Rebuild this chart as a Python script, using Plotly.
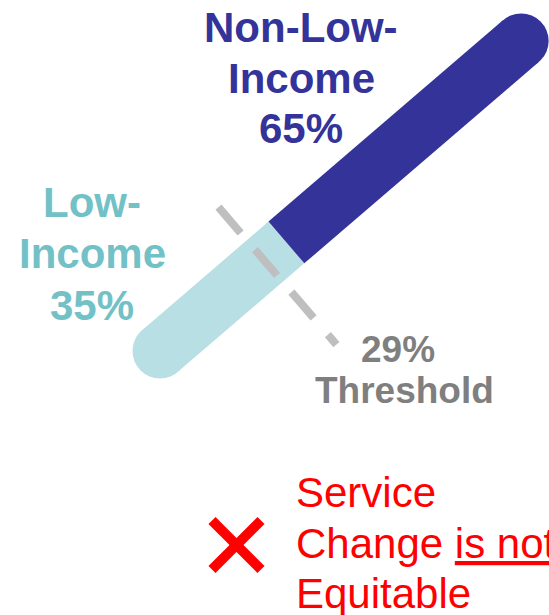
import math
import plotly.graph_objects as go

# --- data -------------------------------------------------------------
categories = ["Low-Income", "Non-Low-Income"]
shares = [35, 65]                      # percent of riders
threshold = 29                         # equity threshold, percent
verdict_lines = ["Service", "Change <u>is not</u>", "Equitable"]

# --- styling / layout --------------------------------------------------
W, H = 549, 615
FONT = "Liberation Sans, Arial, sans-serif"
seg_colors = ["#B8E0E4", "#333399"]
label_colors = ["#72C1C7", "#333399"]
GRAY_TEXT = "#7F7F7F"
DASH_GRAY = "#BFBFBF"
RED = "#FF0000"

bar_start = (160.0, 351.0)             # centre of the low-end cap (px)
bar_angle = math.radians(40.65)        # tilt above horizontal
bar_len = 476.0                        # px spanned by 0..100 %
bar_width = 55                         # px

ux, uy = math.cos(bar_angle), -math.sin(bar_angle)   # along the bar (screen y down)
nx, ny = math.sin(bar_angle), math.cos(bar_angle)    # across the bar


def along(pct):
    return (bar_start[0] + pct / 100 * bar_len * ux,
            bar_start[1] + pct / 100 * bar_len * uy)


fig = go.Figure()

# stacked bar segments drawn as thick tilted strokes with round end caps
edges = [0]
for s in shares:
    edges.append(edges[-1] + s)
for i, (a, b) in enumerate(zip(edges[:-1], edges[1:])):
    p0, p1 = along(a), along(b)
    fig.add_trace(go.Scatter(
        x=[p0[0], p1[0]], y=[p0[1], p1[1]], mode="lines",
        line=dict(color=seg_colors[i], width=bar_width),
        hoverinfo="skip", showlegend=False, cliponaxis=False))
    cap = along(edges[0]) if i == 0 else (along(edges[-1]) if i == len(shares) - 1 else None)
    if cap is not None:
        fig.add_trace(go.Scatter(
            x=[cap[0]], y=[cap[1]], mode="markers",
            marker=dict(color=seg_colors[i], size=bar_width, line=dict(width=0)),
            hoverinfo="skip", showlegend=False, cliponaxis=False))

# dashed threshold marker across the bar
tc = along(threshold)
t_lo, t_hi = -71, 110
fig.add_trace(go.Scatter(
    x=[tc[0] + t_lo * nx, tc[0] + t_hi * nx],
    y=[tc[1] + t_lo * ny, tc[1] + t_hi * ny],
    mode="lines", line=dict(color=DASH_GRAY, width=8, dash="34px,22px"),
    hoverinfo="skip", showlegend=False, cliponaxis=False))

annotations = []


def add_line(text, x, baseline, size, color, bold=True, anchor="center"):
    # centre the line box on its glyph extent so the anchor stays on the canvas
    annotations.append(dict(
        x=x, y=baseline - 0.3465 * size, xref="x", yref="y",
        xanchor=anchor, yanchor="middle", showarrow=False, borderpad=0,
        text=f"<b>{text}</b>" if bold else text,
        font=dict(family=FONT, size=size, color=color)))


def split_label(name):
    head, tail = name.rsplit("-", 1)
    return [head + "-", tail]


# category labels
label_pos = [(92, [217, 268, 320]), (301, [42, 93, 143])]
for i, cat in enumerate(categories):
    cx, bases = label_pos[i]
    lines = split_label(cat) + [f"{shares[i]}%"]
    for txt, b in zip(lines, bases):
        add_line(txt, cx, b, 42, label_colors[i])

# threshold label
add_line(f"{threshold}%", 398, 362, 37, GRAY_TEXT)
add_line("Threshold", 404, 403, 37, GRAY_TEXT)

# verdict
for txt, b in zip(verdict_lines, [507, 558, 608]):
    add_line(txt, 295, b, 42, RED, bold=False, anchor="left")

# red cross icon
xc, yc, half = 236.5, 545.0, 24.5
shapes = [
    dict(type="line", xref="x", yref="y", x0=xc - half, y0=yc - half,
         x1=xc + half, y1=yc + half, line=dict(color=RED, width=10)),
    dict(type="line", xref="x", yref="y", x0=xc - half, y0=yc + half,
         x1=xc + half, y1=yc - half, line=dict(color=RED, width=10)),
]

fig.update_layout(
    width=W, height=H, margin=dict(l=0, r=0, t=0, b=0),
    paper_bgcolor="white", plot_bgcolor="white",
    xaxis=dict(range=[0, W], visible=False, fixedrange=True),
    yaxis=dict(range=[H, 0], visible=False, fixedrange=True),
    annotations=annotations, shapes=shapes, showlegend=False,
)

fig.write_html("out.html", config={"displayModeBar": False})
